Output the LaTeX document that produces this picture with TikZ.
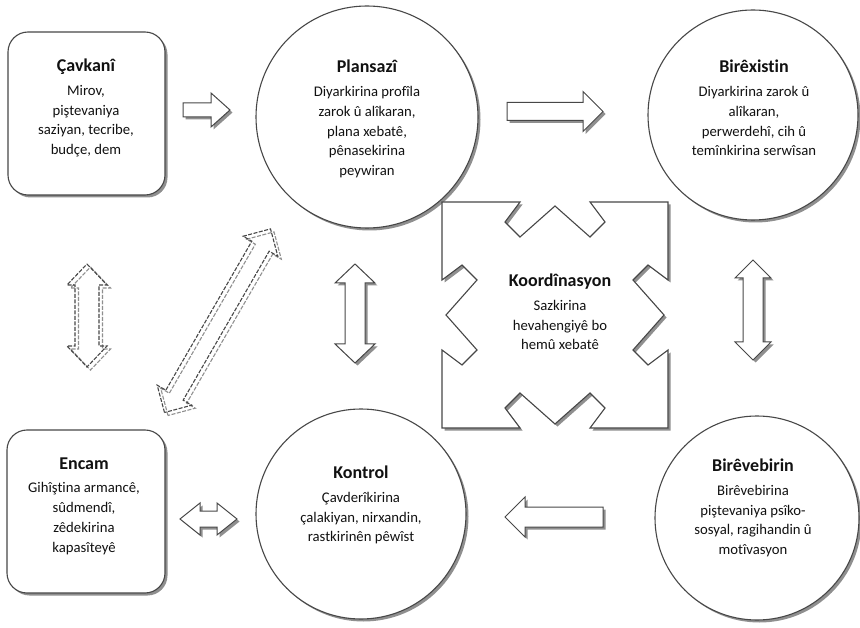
\documentclass[tikz,border=0pt]{standalone}
\usepackage{fontspec}
\setmainfont[Ligatures=NoCommon]{Carlito}
\usetikzlibrary{shadows}
\definecolor{lnc}{HTML}{474747}
\definecolor{shc}{HTML}{8F8F8F}
\definecolor{txc}{HTML}{111111}
\tikzset{
  shapeline/.style={draw=lnc, line width=1.1pt, fill=white},
  shad/.style={drop shadow={shadow xshift=2.5pt, shadow yshift=-2.5pt, fill=shc, opacity=1}},
  roundbox/.style={shapeline, shad, rounded corners=20pt, inner sep=0pt},
  circ/.style={shapeline, shad, circle, inner sep=0pt},
  txt/.style={align=center, text=txc, font=\fontsize{14.7}{19.8}\selectfont, inner sep=0pt},
  blockarr/.style={draw=lnc, line width=1pt, fill=white, line join=miter},
  dasharr/.style={draw=lnc, line width=1.1pt, dash pattern=on 4pt off 1.5pt},
  dashshad/.style={draw=shc, line width=1.1pt, dash pattern=on 4pt off 1.5pt},
}
\newcommand\ttl[1]{{\fontsize{18}{22}\selectfont\bfseries #1}\\[4pt]}
% single block arrow: x, y (tail centre), angle, length, head length, head half, body half
\newcommand\SArr[7]{%
  \fill[shc, shift={(#1+2.5,#2+2.5)}, rotate=#3] (0,-#7) -- ({#4-#5},-#7) -- ({#4-#5},-#6) -- (#4,0) -- ({#4-#5},#6) -- ({#4-#5},#7) -- (0,#7) -- cycle;
  \draw[blockarr, shift={(#1,#2)}, rotate=#3] (0,-#7) -- ({#4-#5},-#7) -- ({#4-#5},-#6) -- (#4,0) -- ({#4-#5},#6) -- ({#4-#5},#7) -- (0,#7) -- cycle;}
% double block arrow: x, y (first tip), angle, length, head length, head half, body half
\newcommand\DArr[7]{%
  \fill[shc, shift={(#1+2.5,#2+2.5)}, rotate=#3] (0,0) -- (#5,-#6) -- (#5,-#7) -- ({#4-#5},-#7) -- ({#4-#5},-#6) -- (#4,0) -- ({#4-#5},#6) -- ({#4-#5},#7) -- (#5,#7) -- (#5,#6) -- cycle;
  \draw[blockarr, shift={(#1,#2)}, rotate=#3] (0,0) -- (#5,-#6) -- (#5,-#7) -- ({#4-#5},-#7) -- ({#4-#5},-#6) -- (#4,0) -- ({#4-#5},#6) -- ({#4-#5},#7) -- (#5,#7) -- (#5,#6) -- cycle;}
\newcommand\DArrDash[7]{%
  \draw[dashshad, shift={(#1+3.5,#2+3)}, rotate=#3] (0,0) -- (#5,-#6) -- (#5,-#7) -- ({#4-#5},-#7) -- ({#4-#5},-#6) -- (#4,0) -- ({#4-#5},#6) -- ({#4-#5},#7) -- (#5,#7) -- (#5,#6) -- cycle;
  \draw[dasharr, shift={(#1,#2)}, rotate=#3] (0,0) -- (#5,-#6) -- (#5,-#7) -- ({#4-#5},-#7) -- ({#4-#5},-#6) -- (#4,0) -- ({#4-#5},#6) -- ({#4-#5},#7) -- (#5,#7) -- (#5,#6) -- cycle;}
\begin{document}
\begin{tikzpicture}[x=1pt, y=-1pt]
\useasboundingbox[fill=white] (0,0) rectangle (860,628);

% shapes
\node[roundbox, minimum width=157pt, minimum height=163pt] (cavkani) at (86.5,113.5) {};
\node[roundbox, minimum width=158pt, minimum height=163pt] (encam) at (86,511.5) {};
\node[circ, minimum size=222pt] (plansazi) at (367,117) {};
\node[circ, minimum size=210pt] (birexistin) at (753,115) {};
\node[circ, minimum size=210pt] (kontrol) at (361,514) {};
\node[circ, minimum size=204pt] (birevebirin) at (757,518) {};
\coordinate (koor) at (555,315);
\draw[shapeline, shad, shift={(555,315)}] (-113,-113) -- (-35,-113) -- (-50,-93) -- (-35,-78) -- (0,-109) -- (35,-78) -- (50,-93) -- (35,-113) -- (113,-113) -- (113,-35) -- (93,-50) -- (78,-35) -- (109,0) -- (78,35) -- (93,50) -- (113,35) -- (113,113) -- (35,113) -- (50,93) -- (35,78) -- (0,109) -- (-35,78) -- (-50,93) -- (-35,113) -- (-113,113) -- (-113,35) -- (-93,50) -- (-78,35) -- (-109,0) -- (-78,-35) -- (-93,-50) -- (-113,-35) -- cycle;

% texts
\node[txt] (cavkaniT) at (86,108) {\ttl{Çavkanî}Mirov,\\piştevaniya\\saziyan, tecribe,\\budçe, dem};
\node[txt] (plansaziT) at (367,119) {\ttl{Plansazî}Diyarkirina profîla\\zarok û alîkaran,\\plana xebatê,\\pênasekirina\\peywiran};
\node[txt] (birexistinT) at (754,108) {\ttl{Birêxistin}Diyarkirina zarok û\\alîkaran,\\perwerdehî, cih û\\temînkirina serwîsan};
\node[txt] (koorT) at (560,312) {\ttl{Koordînasyon}Sazkirina\\hevahengiyê bo\\hemû xebatê};
\node[txt] (encamT) at (84,506) {\ttl{Encam}Gihîştina armancê,\\sûdmendî,\\zêdekirina\\kapasîteyê};
\node[txt] (kontrolT) at (361,505) {\ttl{Kontrol}Çavderîkirina\\çalakiyan, nirxandin,\\rastkirinên pêwîst};
\node[txt] (birevebirinT) at (753,508) {\ttl{Birêvebirin}Birêvebirina\\piştevaniya psîko-\\sosyal, ragihandin û\\motîvasyon};

% block arrows
\SArr{183}{110}{0}{47}{19}{17}{7}
\SArr{507}{111.5}{0}{96}{20}{20}{9}
\SArr{603}{517}{180}{98}{20}{20}{10}
\DArr{180}{519}{0}{57}{20}{16}{8}
\DArr{355}{264}{-90}{99}{19}{20}{10}
\DArr{753}{260}{-90}{100}{18}{18}{10}
\DArrDash{87}{264}{-90}{103}{21}{20}{12}
\DArrDash{164.5}{412.5}{60}{212}{20}{20}{10}
\end{tikzpicture}
\end{document}
